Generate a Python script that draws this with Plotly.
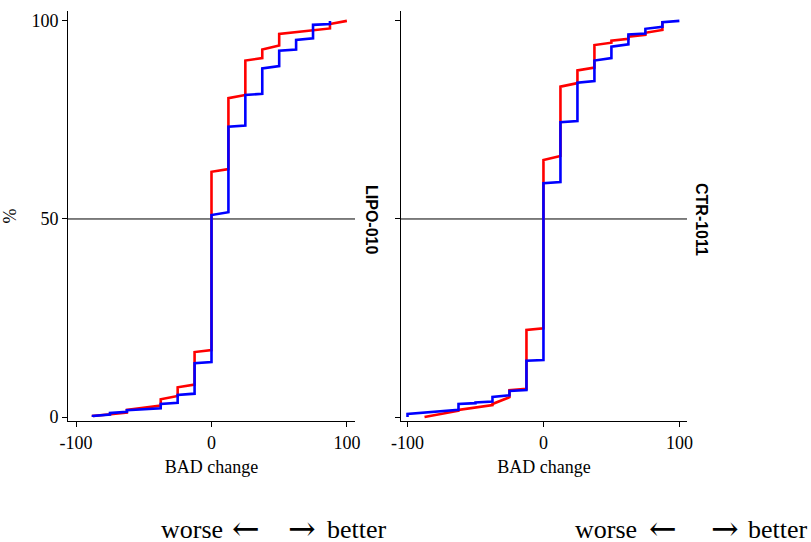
import plotly.graph_objects as go

# ---------------- data ----------------
bad_ticks = [-100, 0, 100]
bad_ticklabels = ["-100", "0", "100"]
pct_ticks = [0, 50, 100]
pct_ticklabels = ["0", "50", "100"]

panels = ["LIPO-010", "CTR-1011"]

# cumulative % at each BAD-change value: lower and upper end of the riser
lipo_red_x = [-87.5, -62.5, -37.5, -25, -12.5, 0, 12.5, 25, 37.5, 50, 87.5, 100]
lipo_red_lo = [0.0, 1.1, 2.9, 5.3, 8.2, 16.9, 62.6, 81.3, 90.6, 93.8, 98.1, 100.0]
lipo_red_hi = [0.3, 1.8, 4.5, 7.5, 16.4, 61.9, 80.5, 90.0, 92.8, 96.7, 99.2, 100.0]

lipo_blue_x = [-87.5, -75, -62.5, -37.5, -25, -12.5, 0, 12.5, 25, 37.5, 50, 62.5, 75, 87.5]
lipo_blue_lo = [0.0, 0.6, 1.3, 2.2, 3.6, 5.9, 13.9, 51.7, 73.6, 81.6, 88.6, 92.8, 95.6, 99.2]
lipo_blue_hi = [0.3, 1.0, 1.7, 3.3, 5.6, 13.6, 51.0, 73.3, 81.3, 88.0, 92.5, 95.2, 99.0, 100.0]

ctr_red_x = [-87.5, -62.5, -37.5, -25, -12.5, 0, 12.5, 25, 37.5, 50, 62.5, 75, 87.5]
ctr_red_lo = [0.0, 1.6, 3.0, 5.0, 7.1, 22.4, 65.9, 84.3, 88.2, 94.5, 95.5, 96.5, 97.7]
ctr_red_hi = [0.0, 1.8, 3.3, 6.8, 22.0, 64.9, 83.4, 87.5, 93.9, 95.0, 96.0, 97.0, 100.0]

ctr_blue_x = [-100, -62.5, -50, -37.5, -25, -12.5, 0, 12.5, 25, 37.5, 50, 62.5, 75, 87.5, 100]
ctr_blue_lo = [0.0, 1.8, 3.5, 3.9, 5.5, 6.8, 14.4, 59.3, 74.7, 84.8, 90.6, 94.1, 96.8, 98.5, 100.0]
ctr_blue_hi = [0.8, 3.3, 3.7, 5.1, 6.6, 14.2, 59.0, 74.4, 84.4, 90.0, 93.5, 96.6, 98.0, 99.7, 100.0]

note_words = ["worse", "\u2190", "\u2192", "better"]

RED = "#ff0000"
BLUE = "#0000ff"
SERIF = "Liberation Serif, Times New Roman, serif"
SANS = "Liberation Sans, Arial, sans-serif"


def ecdf_path(xv, lo, hi):
    xs, ys = [], []
    for x, a, b in zip(xv, lo, hi):
        xs += [x, x]
        ys += [a, b]
    return xs, ys


fig = go.Figure()

series = [
    ("x", "y", lipo_red_x, lipo_red_lo, lipo_red_hi, RED),
    ("x", "y", lipo_blue_x, lipo_blue_lo, lipo_blue_hi, BLUE),
    ("x2", "y2", ctr_red_x, ctr_red_lo, ctr_red_hi, RED),
    ("x2", "y2", ctr_blue_x, ctr_blue_lo, ctr_blue_hi, BLUE),
]
for xa, ya, xv, lo, hi, col in series:
    xs, ys = ecdf_path(xv, lo, hi)
    fig.add_trace(go.Scatter(x=xs, y=ys, mode="lines", xaxis=xa, yaxis=ya,
                             line=dict(color=col, width=2.6), hoverinfo="skip",
                             showlegend=False))

W, H = 811, 542
ydom = [(H - 421) / H, (H - 11) / H]

axis_common = dict(showline=True, linecolor="black", linewidth=1, ticks="outside",
                   ticklen=5, tickcolor="black", tickwidth=1, showgrid=False,
                   zeroline=False, automargin=False,
                   tickfont=dict(family=SERIF, size=18, color="black"))

fig.update_layout(
    width=W, height=H,
    margin=dict(l=0, r=0, t=0, b=0, pad=0, autoexpand=False),
    plot_bgcolor="white", paper_bgcolor="white",
    showlegend=False,
    xaxis=dict(domain=[68 / W, 355 / W], range=[-106, 106], tickvals=bad_ticks,
               ticktext=bad_ticklabels, anchor="y",
               title=dict(text="BAD change", font=dict(family=SERIF, size=18, color="black"),
                          standoff=8),
               **axis_common),
    yaxis=dict(domain=ydom, range=[-1, 102.5], tickvals=pct_ticks, ticktext=pct_ticklabels,
               anchor="x",
               title=dict(text="%", font=dict(family=SERIF, size=18, color="black"),
                          standoff=12),
               **axis_common),
    xaxis2=dict(domain=[401 / W, 687 / W], range=[-104.8, 105.6], tickvals=bad_ticks,
                ticktext=bad_ticklabels, anchor="y2",
                title=dict(text="BAD change", font=dict(family=SERIF, size=18, color="black"),
                           standoff=8),
                **axis_common),
    yaxis2=dict(domain=ydom, range=[-1, 102.5], tickvals=pct_ticks, showticklabels=False,
                anchor="x2", **axis_common),
)

# 50% reference lines
for xr, yr in [("x domain", "y"), ("x2 domain", "y2")]:
    fig.add_shape(type="line", xref=xr, yref=yr, x0=0, x1=1, y0=50, y1=50,
                  line=dict(color="black", width=1), layer="below")

# panel labels
for name, px in zip(panels, [371, 701]):
    fig.add_annotation(text="<b>%s</b>" % name, xref="paper", yref="paper",
                       x=px / W, y=(H - 219) / H, textangle=90, showarrow=False,
                       font=dict(family=SANS, size=16, color="black"),
                       xanchor="center", yanchor="middle")

# direction notes: word / arrow / arrow / word  (left edge, arrow centres, right edge)
note_pos = [(160, 246, 302, 388), (574, 663, 725, 809)]
for p_worse, p_larr, p_rarr, p_better in note_pos:
    fig.add_annotation(text=note_words[0], xref="paper", yref="paper",
                       x=p_worse / W, y=(H - 529) / H, xanchor="left", yanchor="middle",
                       showarrow=False, borderpad=0,
                       font=dict(family=SERIF, size=26, color="black"))
    fig.add_annotation(text=note_words[3], xref="paper", yref="paper",
                       x=p_better / W, y=(H - 529) / H, xanchor="right", yanchor="middle",
                       showarrow=False, borderpad=0,
                       font=dict(family=SERIF, size=26, color="black"))
    for word, px in [(note_words[1], p_larr), (note_words[2], p_rarr)]:
        fig.add_annotation(text=word, xref="paper", yref="paper",
                           x=px / W, y=(H - 528) / H, xanchor="center", yanchor="middle",
                           showarrow=False, borderpad=0,
                           font=dict(family="DejaVu Serif", size=33, color="black"))

fig.write_html("out.html")
